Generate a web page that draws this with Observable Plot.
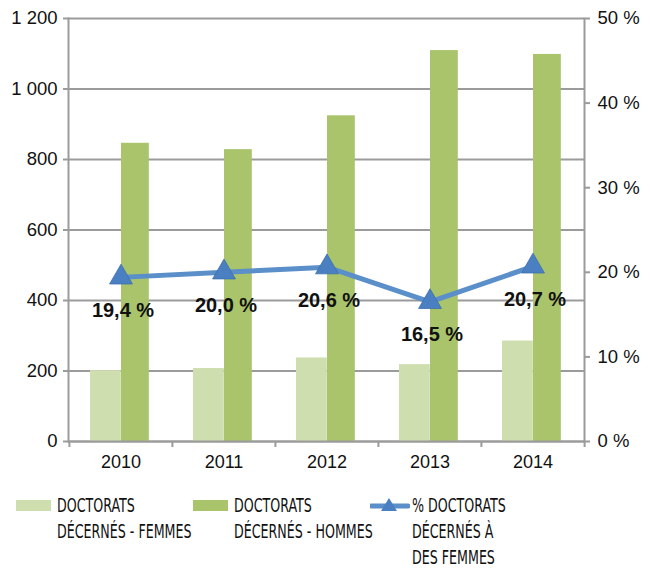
<!DOCTYPE html>
<html>
<head>
<meta charset="utf-8">
<script src="https://cdn.jsdelivr.net/npm/d3@7"></script>
<script src="https://cdn.jsdelivr.net/npm/@observablehq/plot@0.6"></script>
<style>
  body { margin: 0; background: #fff; }
  #wrap { position: relative; width: 652px; height: 570px; overflow: hidden; }
  .leg { position: absolute; font-family: "DejaVu Sans Condensed", "Liberation Sans", sans-serif; font-stretch: condensed; font-size: 19px; line-height: 26px; color: #111; white-space: nowrap; transform: scaleX(0.74); transform-origin: left top; }
  .sw { position: absolute; }
</style>
</head>
<body>
<div id="wrap"></div>
<script>
const years = ["2010", "2011", "2012", "2013", "2014"];
const women = [201, 207, 237, 218, 285];
const men = [846, 828, 924, 1109, 1098];
const pctWomen = [19.4, 20.0, 20.6, 16.5, 20.7];
const leftTicks = [0, 200, 400, 600, 800, 1000, 1200];
const rightTicks = [0, 10, 20, 30, 40, 50];
const seriesNames = ["DOCTORATS<br>DÉCERNÉS - FEMMES", "DOCTORATS<br>DÉCERNÉS - HOMMES", "% DOCTORATS<br>DÉCERNÉS À<br>DES FEMMES"];

const data = years.map((y, i) => ({year: y, women: women[i], men: men[i], pct: pctWomen[i]}));
const scaleK = 1200 / 50; // maps percent onto count axis
const fmtCount = d => d3.format(",")(d).replace(/,/g, " ");
const fmtPct = d => d.toFixed(1).replace(".", ",") + " %";
const grid = "#9b9b9b";

const W = 652, ML = 68, MR = 68;
const band = (W - ML - MR) / years.length;

const chart = Plot.plot({
  width: W,
  height: 490,
  marginLeft: ML,
  marginRight: MR,
  marginTop: 18,
  marginBottom: 49,
  style: {fontFamily: '"Liberation Sans", Arial, sans-serif', fontSize: "18px", color: "#111", background: "#fff"},
  x: {type: "band", domain: years, padding: 0, label: null},
  y: {domain: [0, 1200], label: null},
  marks: [
    Plot.gridY(leftTicks, {stroke: grid, strokeOpacity: 1, strokeWidth: 2}),
    Plot.barY(data, {x: "year", y: "women", fill: "#cfdeae", insetLeft: 21, insetRight: band - 52}),
    Plot.barY(data, {x: "year", y: "men", fill: "#a9c46b", insetLeft: 52, insetRight: band - 80}),
    Plot.frame({anchor: "left", stroke: grid, strokeWidth: 2}),
    Plot.frame({anchor: "right", stroke: grid, strokeWidth: 2}),
    Plot.ruleY([0], {stroke: grid, strokeWidth: 2}),
    Plot.ruleX(years, {x: d => d, y1: 0, y2: 0, insetBottom: -6, dx: -band / 2, stroke: grid, strokeWidth: 2}),
    Plot.ruleX([years[years.length - 1]], {x: d => d, y1: 0, y2: 0, insetBottom: -6, dx: band / 2, stroke: grid, strokeWidth: 2}),
    Plot.axisY({anchor: "left", ticks: leftTicks, tickFormat: fmtCount, tickSize: 5, tickPadding: 6, stroke: grid, strokeWidth: 2, fontSize: 18.5}),
    Plot.axisY({anchor: "right", ticks: rightTicks.map(p => p * scaleK), tickFormat: d => Math.round(d / scaleK) + " %", tickSize: 5, tickPadding: 8, stroke: grid, strokeWidth: 2, fontSize: 18.5}),
    Plot.axisX({anchor: "bottom", tickSize: 0, tickPadding: 14, fontSize: 18}),
    Plot.line(data, {x: "year", y: d => d.pct * scaleK, stroke: "#5b8fca", strokeWidth: 5}),
    Plot.dot(data, {x: "year", y: d => d.pct * scaleK, symbol: "triangle", r: 8.5, fill: "#4a7fc1", stroke: "#3d6eab", strokeWidth: 0.8}),
    Plot.text(data, {x: "year", y: d => d.pct * scaleK, text: d => fmtPct(d.pct), dy: 33, dx: 2, fontWeight: "bold", fontSize: 20, fill: "#111"})
  ]
});

const wrap = document.getElementById("wrap");
wrap.appendChild(chart);

// legend
const legendItems = [
  {x: 16, tx: 57, kind: "rect", color: "#cfdeae", text: seriesNames[0]},
  {x: 193, tx: 234, kind: "rect", color: "#a9c46b", text: seriesNames[1]},
  {x: 370, tx: 412, kind: "line", color: "#5b8fca", text: seriesNames[2]}
];
legendItems.forEach(it => {
  if (it.kind === "rect") {
    const s = document.createElement("div");
    s.className = "sw";
    Object.assign(s.style, {left: it.x + "px", top: "500px", width: "35px", height: "11px", background: it.color});
    wrap.appendChild(s);
  } else {
    const ns = "http://www.w3.org/2000/svg";
    const svg = document.createElementNS(ns, "svg");
    svg.setAttribute("width", 40); svg.setAttribute("height", 20);
    svg.style.position = "absolute"; svg.style.left = it.x + "px"; svg.style.top = "495px";
    const l = document.createElementNS(ns, "line");
    l.setAttribute("x1", 1); l.setAttribute("x2", 38); l.setAttribute("y1", 11); l.setAttribute("y2", 11);
    l.setAttribute("stroke", it.color); l.setAttribute("stroke-width", 5); l.setAttribute("stroke-linecap", "round");
    svg.appendChild(l);
    const t = document.createElementNS(ns, "path");
    t.setAttribute("d", "M19,3 L27,16 L11,16 Z");
    t.setAttribute("fill", "#4a7fc1");
    svg.appendChild(t);
    wrap.appendChild(svg);
  }
  const d = document.createElement("div");
  d.className = "leg";
  d.style.left = it.tx + "px";
  d.style.top = "492px";
  d.innerHTML = it.text;
  wrap.appendChild(d);
});
</script>
</body>
</html>
